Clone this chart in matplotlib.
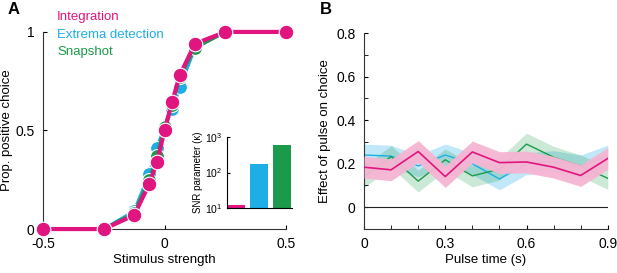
import numpy as np
import matplotlib
matplotlib.use("Agg")
import matplotlib.pyplot as plt
from matplotlib.ticker import MultipleLocator

plt.rcParams['font.family'] = ['Liberation Sans', 'DejaVu Sans']
plt.rcParams['font.size'] = 9.5

# colours
c_int = '#e0157f'
c_ext = '#1eaee6'
c_snap = '#1a9a4a'

# ---- Panel A data: psychometric curves ----
stim = [-0.5, -0.25, -0.125, -0.0625, -0.03125, 0, 0.03125, 0.0625, 0.125, 0.25, 0.5]
p_integ = [0, 0, 0.07, 0.23, 0.34, 0.50, 0.645, 0.78, 0.94, 1, 1]
p_extrema = [0, 0, 0.09, 0.28, 0.41, 0.52, 0.61, 0.72, 0.92, 1, 1]
p_snapshot = [0, 0, 0.08, 0.25, 0.37, 0.52, 0.63, 0.77, 0.92, 1, 1]

# inset: SNR parameter (kappa)
models = ['Integration', 'Extrema detection', 'Snapshot']
kappa = [12, 172, 600]

# ---- Panel B data: pulse effect ----
pulse_t = [0, 0.1, 0.2, 0.3, 0.4, 0.5, 0.6, 0.7, 0.8, 0.9]
eff_integ = [0.184, 0.172, 0.256, 0.141, 0.254, 0.205, 0.208, 0.184, 0.146, 0.224]
eff_extrema = [0.24, 0.235, 0.19, 0.24, 0.20, 0.13, 0.20, 0.21, 0.19, 0.235]
eff_snapshot = [0.14, 0.233, 0.12, 0.218, 0.144, 0.175, 0.29, 0.23, 0.19, 0.133]
se_integ = [0.05] * 10
se_extrema = [0.05] * 10
se_snapshot = [0.05] * 10

fig = plt.figure(figsize=(6.17, 2.73), dpi=100)

# ---- Panel A ----
axA = fig.add_axes([0.0697, 0.161, 0.394, 0.722])
axA.plot(stim, p_extrema, '-o', color=c_ext, lw=2.5, ms=10, mec='white', mew=0.8, clip_on=False, zorder=3)
axA.plot(stim, p_snapshot, '-o', color=c_snap, lw=2.5, ms=10, mec='white', mew=0.8, clip_on=False, zorder=4)
axA.plot(stim, p_integ, '-o', color=c_int, lw=3, ms=10.5, mec='white', mew=0.8, clip_on=False, zorder=5)
axA.set_xlim(-0.5, 0.5)
axA.set_ylim(0, 1.0)
axA.set_xticks([-0.5, 0, 0.5])
axA.set_xticklabels(['-0.5', '0', '0.5'])
axA.set_yticks([0, 0.5, 1])
axA.set_yticklabels(['0', '0.5', '1'])
axA.tick_params(direction='in', length=3, labelsize=10, pad=6)
for s in ['top', 'right']:
    axA.spines[s].set_visible(False)
axA.spines['left'].set_color('#333333')
axA.spines['bottom'].set_color('#333333')
axA.set_xlabel('Stimulus strength', labelpad=2)
axA.set_ylabel('Prop. positive choice', labelpad=2)

# legend as coloured text
for i, (name, c) in enumerate(zip(models, [c_int, c_ext, c_snap])):
    fig.text(57 / 617, 1 - (17 + 17.5 * i) / 273, name, color=c, fontsize=9.5, va='center', ha='left')

# inset
axI = fig.add_axes([0.368, 0.238, 0.105, 0.26])
axI.bar(range(3), kappa, width=0.8, color=[c_int, c_ext, c_snap], bottom=0)
axI.set_yscale('log')
axI.set_ylim(10, 1000)
axI.set_xlim(-0.4, 2.45)
axI.set_xticks([])
axI.tick_params(direction='in', length=2, labelsize=7.5, which='major')
axI.tick_params(which='minor', length=0)
for s in ['top', 'right']:
    axI.spines[s].set_visible(False)
axI.patch.set_alpha(0)
axI.set_ylabel('SNR parameter (\u03ba)', fontsize=7, labelpad=1)

# ---- Panel B ----
axB = fig.add_axes([0.590, 0.161, 0.395, 0.718])
axB.fill_between(pulse_t, np.array(eff_extrema) - se_extrema, np.array(eff_extrema) + se_extrema,
                 color=c_ext, alpha=0.28, lw=0, zorder=1)
axB.fill_between(pulse_t, np.array(eff_snapshot) - se_snapshot, np.array(eff_snapshot) + se_snapshot,
                 color=c_snap, alpha=0.22, lw=0, zorder=1)
axB.plot(pulse_t, eff_extrema, color=c_ext, lw=1, zorder=2)
axB.plot(pulse_t, eff_snapshot, color=c_snap, lw=1, zorder=2)
axB.fill_between(pulse_t, np.array(eff_integ) - se_integ, np.array(eff_integ) + se_integ,
                 color='#f6b5d3', alpha=0.95, lw=0, zorder=3)
axB.plot(pulse_t, eff_integ, color=c_int, lw=1.2, zorder=4)
axB.axhline(0, color='#222222', lw=0.8, zorder=5)
axB.set_xlim(0, 0.9)
axB.set_ylim(-0.1, 0.8)
axB.set_xticks([0, 0.3, 0.6, 0.9])
axB.set_xticklabels(['0', '0.3', '0.6', '0.9'])
axB.set_yticks([0, 0.2, 0.4, 0.6, 0.8])
axB.set_yticklabels(['0', '0.2', '0.4', '0.6', '0.8'])
axB.xaxis.set_minor_locator(MultipleLocator(0.1))
axB.yaxis.set_minor_locator(MultipleLocator(0.1))
axB.tick_params(direction='in', length=3, labelsize=10, which='both', pad=6)
for s in ['top', 'right']:
    axB.spines[s].set_visible(False)
axB.spines['left'].set_color('#333333')
axB.spines['bottom'].set_color('#333333')
axB.set_xlabel('Pulse time (s)', labelpad=2)
axB.set_ylabel('Effect of pulse on choice', labelpad=4)

# panel letters
fig.text(8 / 617, 1 - 10 / 273, 'A', fontsize=12, fontweight='bold', va='center')
fig.text(320 / 617, 1 - 10 / 273, 'B', fontsize=12, fontweight='bold', va='center')

fig.savefig('out.png', dpi=100)
